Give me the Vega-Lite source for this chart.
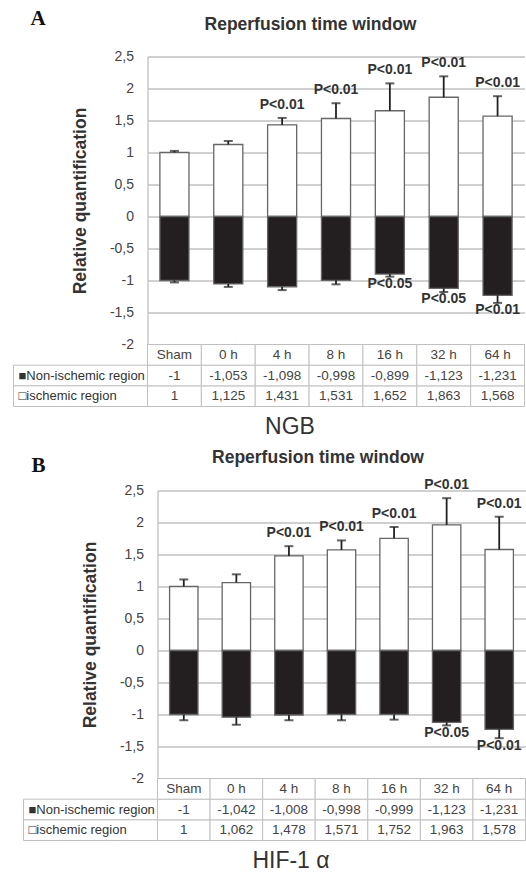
{
  "$schema": "https://vega.github.io/schema/vega-lite/v6.json",
  "background": "white",
  "padding": {"left": 12.5, "top": 7.5, "right": 0, "bottom": 0},
  "config": {
    "view": {"stroke": null},
    "font": "Liberation Sans",
    "locale": {"number": {"decimal": ",", "thousands": ".", "grouping": [3], "currency": ["", ""], "minus": "-"}}
  },
  "datasets": {
    "ngb": [
      {"time": "Sham", "region": "ischemic region", "value": 1, "bound": 1.025, "p": ""},
      {"time": "0 h", "region": "ischemic region", "value": 1.125, "bound": 1.18, "p": ""},
      {"time": "4 h", "region": "ischemic region", "value": 1.431, "bound": 1.54, "p": "P<0.01"},
      {"time": "8 h", "region": "ischemic region", "value": 1.531, "bound": 1.77, "p": "P<0.01"},
      {"time": "16 h", "region": "ischemic region", "value": 1.652, "bound": 2.08, "p": "P<0.01"},
      {"time": "32 h", "region": "ischemic region", "value": 1.863, "bound": 2.19, "p": "P<0.01"},
      {"time": "64 h", "region": "ischemic region", "value": 1.568, "bound": 1.88, "p": "P<0.01"},
      {"time": "Sham", "region": "Non-ischemic region", "value": -1, "bound": -1.03, "p": ""},
      {"time": "0 h", "region": "Non-ischemic region", "value": -1.053, "bound": -1.1, "p": ""},
      {"time": "4 h", "region": "Non-ischemic region", "value": -1.098, "bound": -1.15, "p": ""},
      {"time": "8 h", "region": "Non-ischemic region", "value": -0.998, "bound": -1.06, "p": ""},
      {"time": "16 h", "region": "Non-ischemic region", "value": -0.899, "bound": -0.94, "p": "P<0.05"},
      {"time": "32 h", "region": "Non-ischemic region", "value": -1.123, "bound": -1.18, "p": "P<0.05"},
      {"time": "64 h", "region": "Non-ischemic region", "value": -1.231, "bound": -1.35, "p": "P<0.01"}
    ],
    "hif": [
      {"time": "Sham", "region": "ischemic region", "value": 1, "bound": 1.11, "p": ""},
      {"time": "0 h", "region": "ischemic region", "value": 1.062, "bound": 1.19, "p": ""},
      {"time": "4 h", "region": "ischemic region", "value": 1.478, "bound": 1.63, "p": "P<0.01"},
      {"time": "8 h", "region": "ischemic region", "value": 1.571, "bound": 1.72, "p": "P<0.01"},
      {"time": "16 h", "region": "ischemic region", "value": 1.752, "bound": 1.93, "p": "P<0.01"},
      {"time": "32 h", "region": "ischemic region", "value": 1.963, "bound": 2.38, "p": "P<0.01"},
      {"time": "64 h", "region": "ischemic region", "value": 1.578, "bound": 2.09, "p": "P<0.01"},
      {"time": "Sham", "region": "Non-ischemic region", "value": -1, "bound": -1.09, "p": ""},
      {"time": "0 h", "region": "Non-ischemic region", "value": -1.042, "bound": -1.16, "p": ""},
      {"time": "4 h", "region": "Non-ischemic region", "value": -1.008, "bound": -1.09, "p": ""},
      {"time": "8 h", "region": "Non-ischemic region", "value": -0.998, "bound": -1.09, "p": ""},
      {"time": "16 h", "region": "Non-ischemic region", "value": -0.999, "bound": -1.08, "p": ""},
      {"time": "32 h", "region": "Non-ischemic region", "value": -1.123, "bound": -1.17, "p": "P<0.05"},
      {"time": "64 h", "region": "Non-ischemic region", "value": -1.231, "bound": -1.37, "p": "P<0.01"}
    ],
    "rows": [
      {"region": "Non-ischemic region", "label": "■Non-ischemic region"},
      {"region": "ischemic region", "label": "□ischemic region"}
    ],
    "empty": []
  },
  "spacing": 10,
  "vconcat": [
    {
      "columns": 2, "align": "each", "bounds": "flush", "spacing": 0,
      "concat": [
        {
          "width": 134, "height": 288,
          "data": {"name": "empty"},
          "mark": "point",
          "title": {"text": "A", "anchor": "start", "frame": "group", "dx": 17, "offset": 10.4, "baseline": "alphabetic", "font": "Liberation Serif", "fontSize": 21, "fontWeight": "bold", "color": "#111"}
        },
        {
          "width": 377, "height": 288,
          "data": {"name": "ngb"},
          "title": {"text": "Reperfusion time window", "anchor": "middle", "dx": -25.5, "offset": 2, "baseline": "alphabetic", "fontSize": 17.5, "fontWeight": "bold", "color": "#333"},
          "encoding": {
            "x": {"field": "time", "type": "nominal", "sort": ["Sham", "0 h", "4 h", "8 h", "16 h", "32 h", "64 h"], "scale": {"paddingInner": 0.46, "paddingOuter": 0.23}, "axis": null}
          },
          "layer": [
            {
              "mark": {"type": "bar", "stroke": "#666", "strokeWidth": 1.3},
              "encoding": {
                "y": {"field": "value", "type": "quantitative", "stack": null, "scale": {"domain": [-2, 2.5], "nice": false},
                  "axis": {"values": [-2, -1.5, -1, -0.5, 0, 0.5, 1, 1.5, 2, 2.5], "tickCount": 12, "format": "~g", "title": "Relative quantification", "titleFontSize": 17.5, "titleFontWeight": "bold", "titleColor": "#333", "titlePadding": 20, "labelFontSize": 14, "labelColor": "#444", "labelPadding": 14, "ticks": false, "domainColor": "#c0c0c0", "domainWidth": 1.3, "gridColor": "#c0c0c0", "gridWidth": 1.3, "grid": true}},
                "fill": {"field": "region", "type": "nominal", "scale": {"domain": ["Non-ischemic region", "ischemic region"], "range": ["#231f20", "#ffffff"]}, "legend": null}
              }
            },
            {
              "mark": {"type": "rule", "color": "#222", "strokeWidth": 1.8},
              "encoding": {"y": {"field": "value", "type": "quantitative"}, "y2": {"field": "bound"}}
            },
            {
              "mark": {"type": "tick", "color": "#222", "thickness": 2, "size": 9},
              "encoding": {"y": {"field": "bound", "type": "quantitative"}}
            },
            {
              "transform": [{"filter": "datum.region === 'ischemic region'"}],
              "mark": {"type": "text", "baseline": "alphabetic", "dy": -9, "fontSize": 14, "fontWeight": "bold", "color": "#333"},
              "encoding": {"y": {"field": "bound", "type": "quantitative"}, "text": {"field": "p"}}
            },
            {
              "transform": [{"filter": "datum.region === 'Non-ischemic region'"}],
              "mark": {"type": "text", "baseline": "top", "dy": 0, "fontSize": 14, "fontWeight": "bold", "color": "#333"},
              "encoding": {"y": {"field": "bound", "type": "quantitative"}, "text": {"field": "p"}}
            }
          ]
        },
        {
          "width": 134, "height": 62,
          "data": {"name": "rows"},
          "encoding": {"y": {"field": "region", "type": "nominal", "scale": {"domain": ["Time", "Non-ischemic region", "ischemic region"], "paddingInner": 0, "paddingOuter": 0}, "axis": null}},
          "layer": [
            {"mark": {"type": "rect", "fill": "white", "stroke": "#c0c0c0", "strokeWidth": 1}},
            {"mark": {"type": "text", "align": "left", "dx": -62, "fontSize": 13, "color": "#333"}, "encoding": {"text": {"field": "label"}}}
          ]
        },
        {
          "width": 377, "height": 62,
          "data": {"name": "ngb"},
          "encoding": {
            "x": {"field": "time", "type": "nominal", "sort": ["Sham", "0 h", "4 h", "8 h", "16 h", "32 h", "64 h"], "scale": {"paddingInner": 0, "paddingOuter": 0},
              "axis": {"title": "NGB", "labels": false, "ticks": false, "domain": false, "grid": false, "titleFontSize": 23, "titleFontWeight": "normal", "titleColor": "#333", "titleX": 142, "titleBaseline": "alphabetic", "titlePadding": 27}}
          },
          "layer": [
            {"mark": {"type": "rect", "fill": "white", "stroke": "#c0c0c0", "strokeWidth": 1},
             "encoding": {"y": {"field": "region", "type": "nominal", "scale": {"domain": ["Time", "Non-ischemic region", "ischemic region"], "paddingInner": 0, "paddingOuter": 0}, "axis": null}}},
            {"mark": {"type": "text", "fontSize": 13.5, "color": "#444"},
             "encoding": {"y": {"field": "region", "type": "nominal"}, "text": {"field": "value", "type": "quantitative", "format": "~g"}}},
            {"transform": [{"filter": "datum.region === 'ischemic region'"}],
             "mark": {"type": "rect", "fill": "white", "stroke": "#c0c0c0", "strokeWidth": 1},
             "encoding": {"y": {"datum": "Time", "type": "nominal"}}},
            {"transform": [{"filter": "datum.region === 'ischemic region'"}],
             "mark": {"type": "text", "fontSize": 13.5, "color": "#444"},
             "encoding": {"y": {"datum": "Time", "type": "nominal"}, "text": {"field": "time"}}}
          ]
        }
      ]
    },
    {
      "spacing": 0,
      "hconcat": [
        {"width": 9, "height": 10, "data": {"name": "empty"}, "mark": "point"},
        {
          "columns": 2, "align": "each", "bounds": "flush", "spacing": 0,
          "concat": [
            {
              "width": 134, "height": 288,
              "data": {"name": "empty"},
              "mark": "point",
              "title": {"text": "B", "anchor": "start", "frame": "group", "dx": 8, "offset": -2.3, "baseline": "alphabetic", "font": "Liberation Serif", "fontSize": 21, "fontWeight": "bold", "color": "#111"}
            },
            {
              "width": 368, "height": 288,
              "data": {"name": "hif"},
              "title": {"text": "Reperfusion time window", "anchor": "middle", "dx": -23.5, "offset": -2, "baseline": "alphabetic", "fontSize": 17.5, "fontWeight": "bold", "color": "#333"},
              "encoding": {
                "x": {"field": "time", "type": "nominal", "sort": ["Sham", "0 h", "4 h", "8 h", "16 h", "32 h", "64 h"], "scale": {"paddingInner": 0.46, "paddingOuter": 0.23}, "axis": null}
              },
              "layer": [
                {
                  "mark": {"type": "bar", "stroke": "#666", "strokeWidth": 1.3},
                  "encoding": {
                    "y": {"field": "value", "type": "quantitative", "stack": null, "scale": {"domain": [-2, 2.5], "nice": false},
                      "axis": {"values": [-2, -1.5, -1, -0.5, 0, 0.5, 1, 1.5, 2, 2.5], "tickCount": 12, "format": "~g", "title": "Relative quantification", "titleFontSize": 17.5, "titleFontWeight": "bold", "titleColor": "#333", "titlePadding": 20, "labelFontSize": 14, "labelColor": "#444", "labelPadding": 14, "ticks": false, "domainColor": "#c0c0c0", "domainWidth": 1.3, "gridColor": "#c0c0c0", "gridWidth": 1.3, "grid": true}},
                    "fill": {"field": "region", "type": "nominal", "scale": {"domain": ["Non-ischemic region", "ischemic region"], "range": ["#231f20", "#ffffff"]}, "legend": null}
                  }
                },
                {
                  "mark": {"type": "rule", "color": "#222", "strokeWidth": 1.8},
                  "encoding": {"y": {"field": "value", "type": "quantitative"}, "y2": {"field": "bound"}}
                },
                {
                  "mark": {"type": "tick", "color": "#222", "thickness": 2, "size": 9},
                  "encoding": {"y": {"field": "bound", "type": "quantitative"}}
                },
                {
                  "transform": [{"filter": "datum.region === 'ischemic region'"}],
                  "mark": {"type": "text", "baseline": "alphabetic", "dy": -9, "fontSize": 14, "fontWeight": "bold", "color": "#333"},
                  "encoding": {"y": {"field": "bound", "type": "quantitative"}, "text": {"field": "p"}}
                },
                {
                  "transform": [{"filter": "datum.region === 'Non-ischemic region'"}],
                  "mark": {"type": "text", "baseline": "top", "dy": 1, "fontSize": 14, "fontWeight": "bold", "color": "#333"},
                  "encoding": {"y": {"field": "bound", "type": "quantitative"}, "text": {"field": "p"}}
                }
              ]
            },
            {
              "width": 134, "height": 62,
              "data": {"name": "rows"},
              "encoding": {"y": {"field": "region", "type": "nominal", "scale": {"domain": ["Time", "Non-ischemic region", "ischemic region"], "paddingInner": 0, "paddingOuter": 0}, "axis": null}},
              "layer": [
                {"mark": {"type": "rect", "fill": "white", "stroke": "#c0c0c0", "strokeWidth": 1}},
                {"mark": {"type": "text", "align": "left", "dx": -62, "fontSize": 13, "color": "#333"}, "encoding": {"text": {"field": "label"}}}
              ]
            },
            {
              "width": 368, "height": 62,
              "data": {"name": "hif"},
              "encoding": {
                "x": {"field": "time", "type": "nominal", "sort": ["Sham", "0 h", "4 h", "8 h", "16 h", "32 h", "64 h"], "scale": {"paddingInner": 0, "paddingOuter": 0},
                  "axis": {"title": "HIF-1 α", "labels": false, "ticks": false, "domain": false, "grid": false, "titleFontSize": 23, "titleFontWeight": "normal", "titleColor": "#333", "titleX": 133, "titleBaseline": "alphabetic", "titlePadding": 27}}
              },
              "layer": [
                {"mark": {"type": "rect", "fill": "white", "stroke": "#c0c0c0", "strokeWidth": 1},
                 "encoding": {"y": {"field": "region", "type": "nominal", "scale": {"domain": ["Time", "Non-ischemic region", "ischemic region"], "paddingInner": 0, "paddingOuter": 0}, "axis": null}}},
                {"mark": {"type": "text", "fontSize": 13.5, "color": "#444"},
                 "encoding": {"y": {"field": "region", "type": "nominal"}, "text": {"field": "value", "type": "quantitative", "format": "~g"}}},
                {"transform": [{"filter": "datum.region === 'ischemic region'"}],
                 "mark": {"type": "rect", "fill": "white", "stroke": "#c0c0c0", "strokeWidth": 1},
                 "encoding": {"y": {"datum": "Time", "type": "nominal"}}},
                {"transform": [{"filter": "datum.region === 'ischemic region'"}],
                 "mark": {"type": "text", "fontSize": 13.5, "color": "#444"},
                 "encoding": {"y": {"datum": "Time", "type": "nominal"}, "text": {"field": "time"}}}
              ]
            }
          ]
        }
      ]
    }
  ]
}
